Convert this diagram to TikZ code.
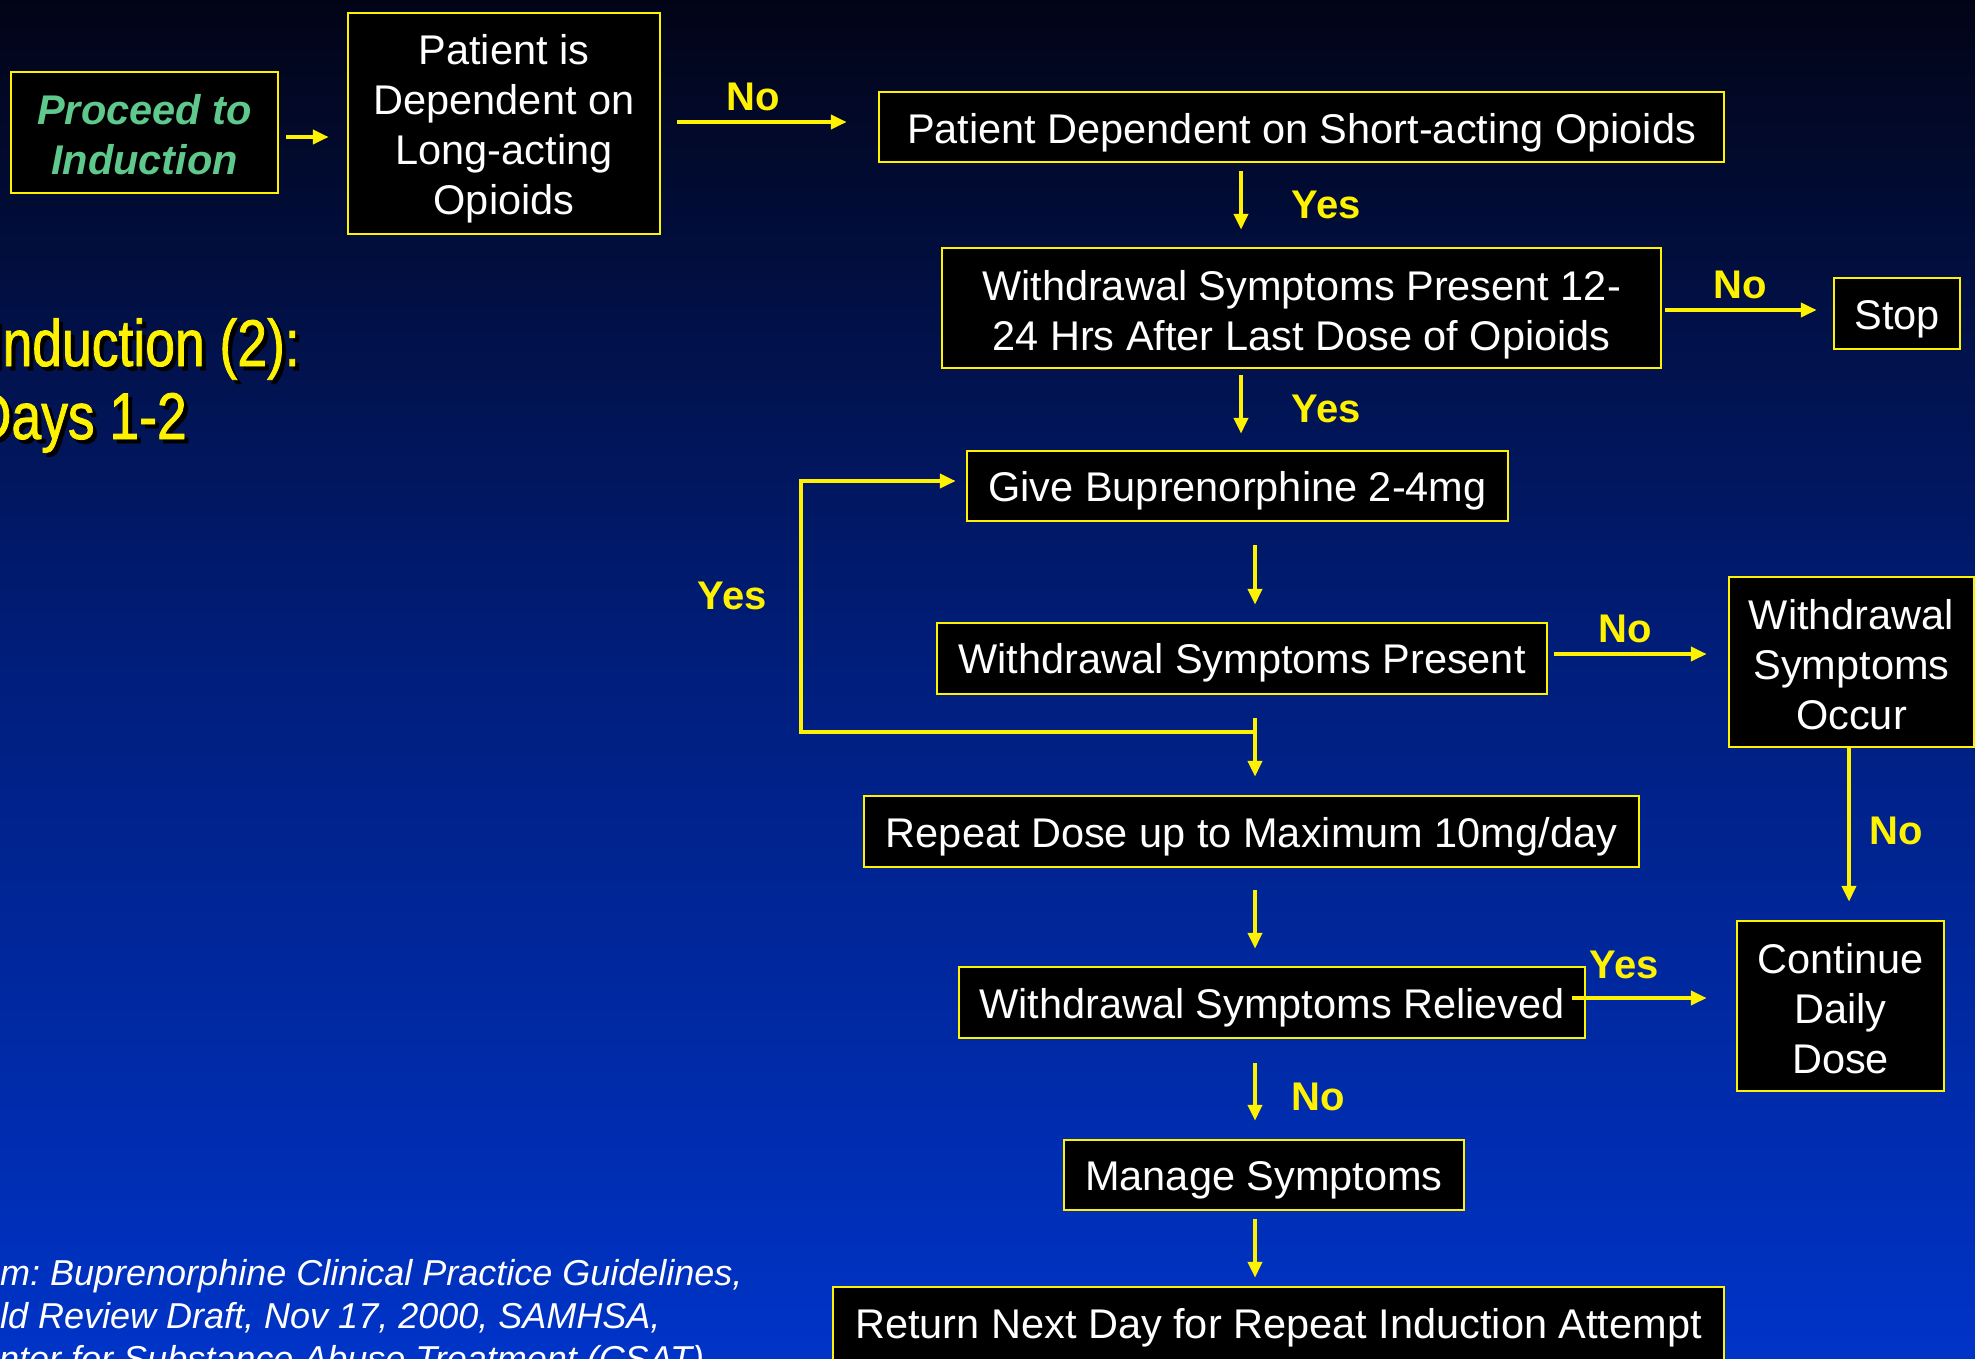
\documentclass[tikz,border=0pt]{standalone}
\usepackage{fontspec}
\setmainfont{Liberation Sans}
\newfontfamily\titlefont[FakeStretch=0.81,FakeBold=1.2]{Liberation Sans}
\usetikzlibrary{calc,arrows.meta}
\definecolor{bgtop}{RGB}{2,4,22}
\definecolor{bgmid}{RGB}{0,30,125}
\definecolor{bgbot}{RGB}{0,52,200}
\definecolor{procgreen}{RGB}{95,200,140}
\newcommand{\topstrut}[1]{\rule{0pt}{#1}}
\tikzset{
  box/.style={draw=yellow, line width=2.5pt, fill=black, text=white, align=center,
    inner sep=0pt, font=\fontsize{41.5}{50}\selectfont},
  drop/.style={execute at begin node={\rule{0pt}{#1}}},
  arr/.style={draw=yellow, line width=4pt, -{Triangle[length=16pt,width=14pt]}},
  lbl/.style={text=yellow, font=\bfseries\fontsize{40}{48}\selectfont, inner sep=0pt},
  foot/.style={text=white, font=\itshape\fontsize{36}{43}\selectfont, inner sep=0pt, anchor=base west},
  ttl/.style={font=\titlefont\fontsize{66}{78}\selectfont, inner sep=0pt, anchor=base east},
}
\frenchspacing
\begin{document}
\frenchspacing
\begin{tikzpicture}[x=1pt,y=-1pt]
\useasboundingbox (0,0) rectangle (1975,1358);
\clip (0,0) rectangle (1975,1358);
\shade[top color=bgtop, bottom color=bgbot, middle color=bgmid] (0,0) rectangle (1975,1358);

% title
\node[ttl, text=black] (t1s) at (304,370) {Induction (2):};
\node[ttl, text=yellow] (t1) at (300,366) {Induction (2):};
\node[ttl, text=black] (t2s) at (191,443) {Days 1-2};
\node[ttl, text=yellow] (t2) at (187,439) {Days 1-2};

% footnote
\node[foot] (fn1) at (-54,1285) {From: Buprenorphine Clinical Practice Guidelines,};
\node[foot] (fn2) at (-50,1328) {Field Review Draft, Nov 17, 2000, SAMHSA,};
\node[foot] (fn3) at (-47,1371) {Center for Substance Abuse Treatment (CSAT)};

% boxes
\node[box, minimum width=267pt, minimum height=121pt, text=procgreen,
  font=\bfseries\itshape\fontsize{41.5}{50}\selectfont] (A) at (144.5,132.5) {\topstrut{34pt}Proceed to\\Induction};
\node[box, minimum width=312pt, minimum height=221pt] (B) at (504,123.5) {\topstrut{40pt}Patient is\\Dependent on\\Long-acting\\Opioids};
\node[box, drop=41pt, minimum width=845pt, minimum height=70pt] (C) at (1301.5,127) {Patient Dependent on Short-acting Opioids};
\node[box, minimum width=719pt, minimum height=120pt] (D) at (1301.5,308) {\topstrut{43pt}Withdrawal Symptoms Present 12-\\24 Hrs After Last Dose of Opioids};
\node[box, drop=40pt, minimum width=126pt, minimum height=71pt] (S) at (1897,313.5) {Stop};
\node[box, drop=40pt, minimum width=541pt, minimum height=70pt] (E) at (1237.5,486) {Give Buprenorphine 2-4mg};
\node[box, drop=39pt, minimum width=610pt, minimum height=71pt] (F) at (1242,658.5) {Withdrawal Symptoms Present};
\node[box, minimum width=245pt, minimum height=170pt] (G) at (1851.5,662) {\topstrut{35pt}Withdrawal\\Symptoms\\Occur};
\node[box, drop=40pt, minimum width=775pt, minimum height=71pt] (H) at (1251.5,831.5) {Repeat Dose up to Maximum 10mg/day};
\node[box, drop=40pt, minimum width=626pt, minimum height=71pt] (I) at (1272,1002.5) {Withdrawal Symptoms Relieved};
\node[box, minimum width=207pt, minimum height=170pt] (J) at (1840.5,1006) {\topstrut{35pt}Continue\\Daily\\Dose};
\node[box, drop=39pt, minimum width=400pt, minimum height=70pt] (K) at (1264,1175) {Manage Symptoms};
\node[box, drop=39pt, minimum width=891pt, minimum height=73pt] (L) at (1278.5,1323.5) {Return Next Day for Repeat Induction Attempt};

% connectors
\draw[arr] ($(A.east)+(7,4.5)$) -- ($(B.west)+(-18,13.5)$);
\draw[arr] ($(B.east)+(16,-1.5)$) -- ($(C.west)+(-31,-5)$);
\draw[arr] ($(C.south)+(-60.5,8)$) -- ($(D.north)+(-60.5,-17)$);
\draw[arr] ($(D.east)+(3,2)$) -- ($(S.west)+(-16,-3.5)$);
\draw[arr] ($(D.south)+(-60.5,6)$) -- ($(E.north)+(3.5,-16)$);
\draw[arr] ($(E.south)+(17.5,23)$) -- ($(F.north)+(13,-17)$);
\draw[arr] ($(F.east)+(6,-4.5)$) -- ($(G.west)+(-21,-8)$);
\draw[arr] ($(F.south)+(13,23)$) -- ($(H.north)+(3.5,-18)$);
\draw[arr] ($(F.south)+(13,37)$) -- ++(-454,0) |- ($(E.west)+(-10,-5)$);
\draw[arr] ($(H.south)+(3.5,22)$) -- ($(I.north)+(-17,-17)$);
\draw[arr] ($(I.east)+(-14,-4.5)$) -- ($(J.west)+(-29,-8)$);
\draw[arr] ($(G.south)+(-2.5,0)$) -- ($(J.north)+(8.5,-18)$);
\draw[arr] ($(I.south)+(-17,24)$) -- ($(K.north)+(-9,-18)$);
\draw[arr] ($(K.south)+(-9,8)$) -- ($(L.north)+(-23.5,-8)$);

% labels
\node[lbl] (l1) at (753,97) {No};
\node[lbl] (l2) at (1326,205) {Yes};
\node[lbl] (l3) at (1740,285) {No};
\node[lbl] (l4) at (1326,409) {Yes};
\node[lbl] (l5) at (732,596) {Yes};
\node[lbl] (l6) at (1625,629) {No};
\node[lbl] (l7) at (1896,831) {No};
\node[lbl] (l8) at (1624,965) {Yes};
\node[lbl] (l9) at (1318,1097) {No};
\end{tikzpicture}
\end{document}
